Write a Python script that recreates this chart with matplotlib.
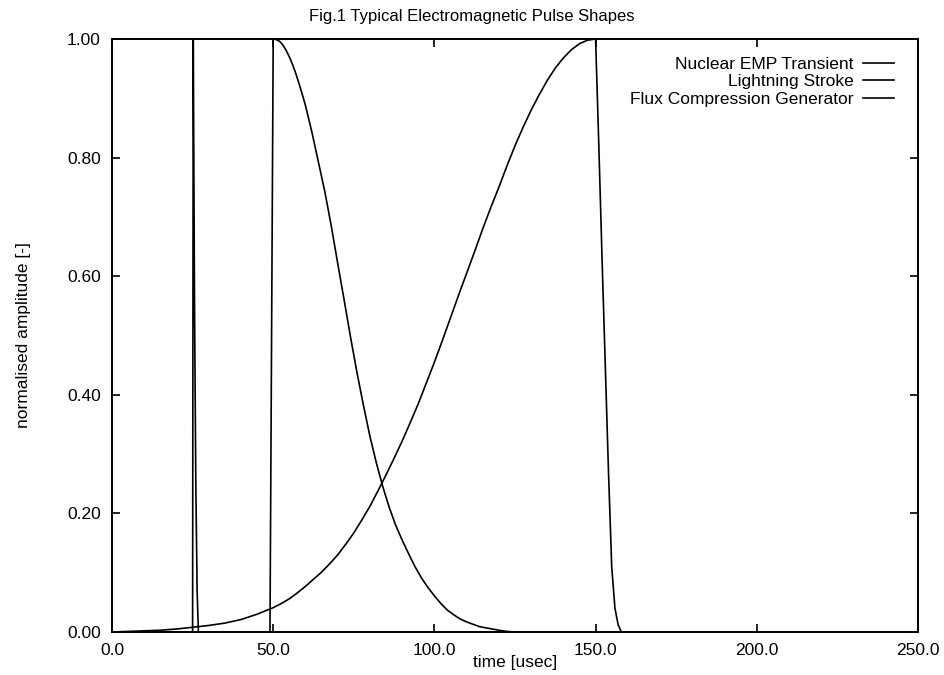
import matplotlib
matplotlib.use("Agg")
import matplotlib.pyplot as plt
from matplotlib.ticker import FormatStrFormatter

plt.rcParams['font.family'] = ['Liberation Sans', 'DejaVu Sans']

# values (time in usec, normalised amplitude)
emp_t = [0.0, 25.0, 25.2, 25.6, 26.0, 26.4, 26.8, 250.0]
emp_y = [0.0, 0.0, 1.0, 0.55, 0.25, 0.07, 0.0, 0.0]

light_t = [0.0, 49.0, 50.0, 51.0, 52.0, 53.0, 54.0, 55.0, 56.0, 57.0, 58.0,
           59.0, 60.0, 62.0, 64.0, 66.0, 68.0, 70.0, 72.0, 74.0, 76.0, 78.0,
           80.0, 82.0, 84.0, 86.0, 88.0, 90.0, 92.0, 94.0, 96.0, 98.0, 100.0,
           102.0, 104.0, 106.0, 108.0, 110.0, 112.0, 114.0, 116.0, 118.0,
           120.0, 122.5, 125.0, 250.0]
light_y = [0.0, 0.0, 1.0, 0.999, 0.996, 0.99, 0.981, 0.97, 0.957, 0.942, 0.925,
           0.907, 0.888, 0.843, 0.793, 0.743, 0.685, 0.622, 0.56, 0.497, 0.437,
           0.382, 0.33, 0.285, 0.245, 0.21, 0.18, 0.155, 0.132, 0.11, 0.091,
           0.075, 0.061, 0.048, 0.037, 0.029, 0.022, 0.017, 0.013, 0.009,
           0.007, 0.005, 0.003, 0.001, 0.0, 0.0]

flux_t = [0.0, 5.0, 10.0, 15.0, 20.0, 25.0, 30.0, 35.0, 40.0, 45.0, 50.0,
          52.5, 55.0, 57.5, 60.0, 62.5, 65.0, 67.5, 70.0, 72.5, 75.0, 77.5,
          80.0, 82.5, 85.0, 87.5, 90.0, 92.5, 95.0, 97.5, 100.0, 102.5, 105.0,
          107.5, 110.0, 112.5, 115.0, 117.5, 120.0, 122.5, 125.0, 127.5, 130.0,
          132.5, 135.0, 137.5, 140.0, 142.5, 145.0, 147.5, 150.0, 151.0,
          152.0, 153.0, 154.0, 155.0, 156.0, 157.0, 158.0, 250.0]
flux_y = [0.0, 0.001, 0.002, 0.003, 0.005, 0.008, 0.011, 0.015, 0.021, 0.03,
          0.041, 0.048, 0.056, 0.066, 0.077, 0.089, 0.101, 0.115, 0.13, 0.148,
          0.167, 0.189, 0.212, 0.238, 0.265, 0.293, 0.322, 0.353, 0.385, 0.42,
          0.455, 0.492, 0.53, 0.568, 0.605, 0.642, 0.68, 0.716, 0.75, 0.786,
          0.82, 0.851, 0.88, 0.906, 0.93, 0.951, 0.968, 0.982, 0.992, 0.998,
          1.0, 0.82, 0.63, 0.45, 0.27, 0.11, 0.04, 0.012, 0.0, 0.0]

labels = ['Nuclear EMP Transient', 'Lightning Stroke', 'Flux Compression Generator']

fig = plt.figure(figsize=(9.44, 6.75), dpi=100)
ax = fig.add_axes([112 / 944, 1 - 632 / 675, 806 / 944, 593 / 675])

ax.plot(emp_t, emp_y, color='black', lw=1.2, label=labels[0])
ax.plot(light_t, light_y, color='black', lw=1.2, label=labels[1])
ax.plot(flux_t, flux_y, color='black', lw=1.2, label=labels[2])

ax.set_xlim(0, 250)
ax.set_ylim(0, 1)
ax.set_xticks([0, 50, 100, 150, 200, 250])
ax.set_yticks([0, 0.2, 0.4, 0.6, 0.8, 1.0])
ax.xaxis.set_major_formatter(FormatStrFormatter('%.1f'))
ax.yaxis.set_major_formatter(FormatStrFormatter('%.2f'))
ax.tick_params(direction='in', length=6, width=1.2, top=True, right=True,
               labelsize=12.5, pad=8)
for s in ax.spines.values():
    s.set_linewidth(1.4)

ax.set_xlabel('time [usec]', fontsize=12.5, labelpad=-2)
ax.set_ylabel('normalised amplitude [-]', fontsize=12.5, labelpad=26)
fig.text(0.5, 1 - 21 / 675, 'Fig.1 Typical Electromagnetic Pulse Shapes',
         ha='center', va='baseline', fontsize=12)

ax.legend(loc='upper right', frameon=False, markerfirst=False, fontsize=12.5,
          handlelength=1.8, handletextpad=0.5, labelspacing=0.12,
          borderaxespad=0.3, bbox_to_anchor=(0.985, 0.99))

plt.savefig('out.png', dpi=100)
